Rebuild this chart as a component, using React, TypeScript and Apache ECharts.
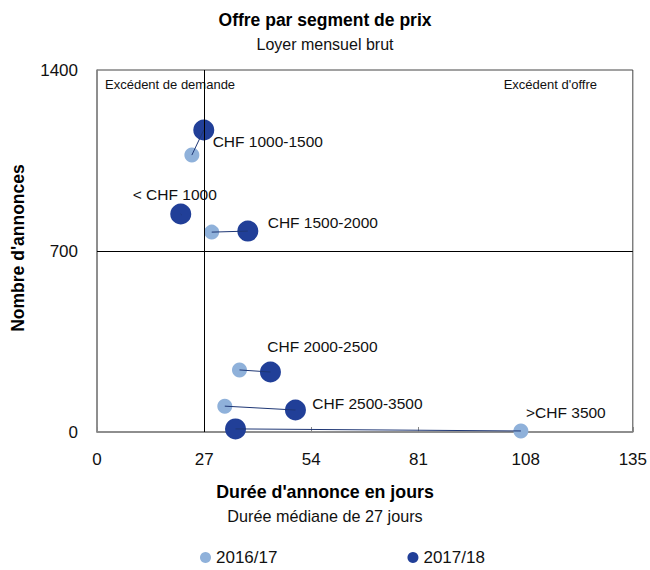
import React, { useEffect, useRef } from "react";
import * as echarts from "echarts";

const segments = ["< CHF 1000", "CHF 1000-1500", "CHF 1500-2000", "CHF 2000-2500", "CHF 2500-3500", ">CHF 3500"];
const days2016 = [21.3, 23.9, 28.9, 35.9, 32.2, 106.8];
const count2016 = [840, 1071, 773, 240, 100, 4];
const days2017 = [21.1, 26.9, 38.0, 43.7, 50.0, 34.9];
const count2017 = [843, 1168, 777, 232, 85, 12];
const xTicks = [0, 27, 54, 81, 108, 135];
const yTicks = [0, 700, 1400];

const FONT = "Liberation Sans, Arial, sans-serif";
const LIGHT = "#8FB1DA";
const DARK = "#213F98";

// label offsets (px) relative to the marker centre, and which series carries the label
const labelCfg: Record<string, { offset: [number, number]; onLight?: boolean }> = {
  "< CHF 1000": { offset: [-6, -20] },
  "CHF 1000-1500": { offset: [64, 12] },
  "CHF 1500-2000": { offset: [75, -9] },
  "CHF 2000-2500": { offset: [52, -26] },
  "CHF 2500-3500": { offset: [72, -7] },
  ">CHF 3500": { offset: [45, -18], onLight: true },
};

export default function App() {
  const ref = useRef<HTMLDivElement>(null);
  useEffect(() => {
    document.body.style.margin = "0";
    const chart = echarts.init(ref.current!, null, { renderer: "svg" });
    const mkLabel = (name: string, show: boolean) =>
      show
        ? {
            show: true,
            formatter: name,
            position: "inside",
            offset: labelCfg[name].offset,
            align: "center",
            verticalAlign: "middle",
            color: "#111",
            fontSize: 15.5,
            fontFamily: FONT,
          }
        : { show: false };
    const lightData = segments.map((s, i) => ({
      value: [days2016[i], count2016[i]],
      label: mkLabel(s, !!labelCfg[s].onLight),
    }));
    const darkData = segments.map((s, i) => ({
      value: [days2017[i], count2017[i]],
      label: mkLabel(s, !labelCfg[s].onLight),
    }));
    const connectors = segments.map((s, i) => ({
      type: "line",
      name: "conn-" + s,
      data: [
        [days2016[i], count2016[i]],
        [days2017[i], count2017[i]],
      ],
      symbol: "none",
      silent: true,
      z: 5,
      lineStyle: { color: "#1F3775", width: 1 },
    }));
    chart.setOption({
      animation: false,
      textStyle: { fontFamily: FONT },
      title: {
        text: "Offre par segment de prix",
        subtext: "Loyer mensuel brut",
        left: "center",
        top: 6,
        itemGap: 7,
        textStyle: { fontSize: 17.5, fontWeight: "bold", color: "#000", fontFamily: FONT },
        subtextStyle: { fontSize: 16, color: "#111", fontFamily: FONT },
      },
      grid: {
        left: 97,
        right: 16,
        top: 70,
        bottom: 138,
        show: true,
        borderColor: "#444",
        borderWidth: 1,
      },
      legend: {
        top: 544,
        left: 195,
        icon: "circle",
        itemWidth: 11,
        itemHeight: 11,
        itemGap: 130,
        textStyle: { fontSize: 17, color: "#111", fontFamily: FONT },
        data: ["2016/17", "2017/18"],
      },
      xAxis: {
        type: "value",
        min: xTicks[0],
        max: xTicks[xTicks.length - 1],
        interval: 27,
        axisLine: { show: true, lineStyle: { color: "#888", width: 1.5 } },
        axisTick: { show: true, inside: true, length: 5, lineStyle: { color: "#888" } },
        axisLabel: { fontSize: 17, color: "#111", margin: 19, fontFamily: FONT },
        splitLine: { show: false },
      },
      yAxis: {
        type: "value",
        min: yTicks[0],
        max: yTicks[yTicks.length - 1],
        interval: 700,
        axisLine: { show: true, lineStyle: { color: "#888", width: 1.5 } },
        axisTick: { show: false },
        axisLabel: { fontSize: 17, color: "#111", margin: 19, fontFamily: FONT, formatter: (v: number) => String(v) },
        splitLine: { show: false },
      },
      graphic: [
        {
          type: "text",
          left: "center",
          top: 483,
          style: { text: "Durée d'annonce en jours", fill: "#000", font: "bold 17.8px " + FONT },
        },
        {
          type: "text",
          left: "center",
          top: 508,
          style: { text: "Durée médiane de 27 jours", fill: "#111", font: "16.2px " + FONT },
        },
        {
          type: "text",
          x: 18,
          y: 248,
          rotation: Math.PI / 2,
          style: {
            text: "Nombre d'annonces",
            fill: "#000",
            font: "bold 17.5px " + FONT,
            align: "center",
            verticalAlign: "middle",
          },
        },
        {
          type: "text",
          x: 105,
          y: 84,
          style: { text: "Excédent de demande", fill: "#111", font: "13px " + FONT, verticalAlign: "middle" },
        },
        {
          type: "text",
          x: 597,
          y: 84,
          style: { text: "Excédent d'offre", fill: "#111", font: "13px " + FONT, align: "right", verticalAlign: "middle" },
        },
      ],
      series: [
        {
          type: "scatter",
          name: "2016/17",
          symbolSize: 15,
          itemStyle: { color: LIGHT, opacity: 1 },
          data: lightData,
          z: 3,
          markLine: {
            silent: true,
            symbol: "none",
            label: { show: false },
            lineStyle: { color: "#000", width: 1, type: "solid" },
            data: [{ xAxis: 27 }, { yAxis: 700 }],
          },
        },
        {
          type: "scatter",
          name: "2017/18",
          symbolSize: 21,
          itemStyle: { color: DARK, opacity: 1 },
          data: darkData,
          z: 4,
        },
        ...connectors,
      ],
    });
    return () => chart.dispose();
  }, []);
  return <div ref={ref} style={{ width: 650, height: 570 }} />;
}
